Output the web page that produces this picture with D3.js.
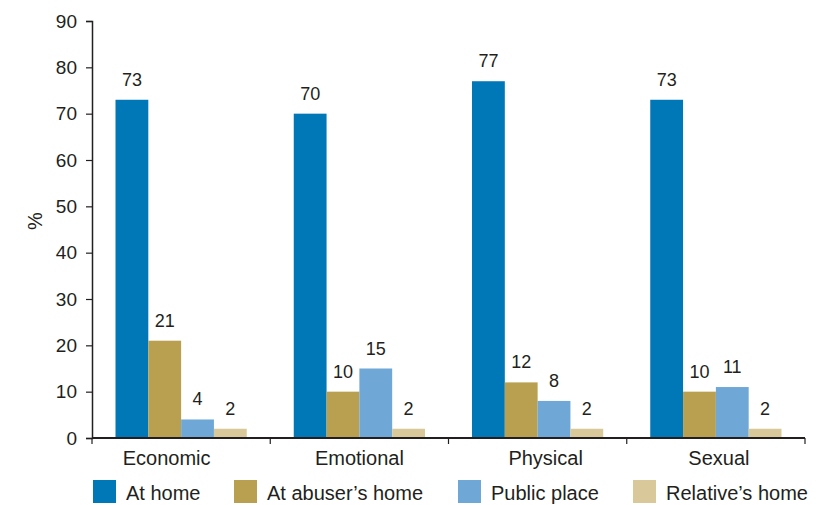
<!DOCTYPE html>
<html>
<head>
<meta charset="utf-8">
<script src="https://cdn.jsdelivr.net/npm/d3@7"></script>
<style>
  html, body { margin: 0; padding: 0; background: #fff; }
  svg { display: block; font-family: "Liberation Sans", Arial, Helvetica, sans-serif; }
</style>
</head>
<body>
<svg id="chart" width="818" height="505"></svg>
<script>
// Where the abuse took place, by type of abuse (%)
const categories = ["Economic", "Emotional", "Physical", "Sexual"];
const seriesNames = ["At home", "At abuser\u2019s home", "Public place", "Relative\u2019s home"];
const atHome = [73, 70, 77, 73];
const atAbusersHome = [21, 10, 12, 10];
const publicPlace = [4, 15, 8, 11];
const relativesHome = [2, 2, 2, 2];
const yTicks = [0, 10, 20, 30, 40, 50, 60, 70, 80, 90];
const colors = ["#0077b6", "#b8a050", "#6fa8d6", "#d9c99a"];

const seriesValues = [atHome, atAbusersHome, publicPlace, relativesHome];
const table = categories.map((c, i) => ({
  category: c,
  values: seriesNames.map((s, j) => ({ series: s, idx: j, value: seriesValues[j][i] }))
}));

const svg = d3.select("#chart");
const plotLeft = 92, plotRight = 805, plotTop = 21, plotBottom = 438;
const ink = "#231f20";

const x = d3.scaleBand().domain(categories).range([plotLeft, plotRight]).paddingInner(0).paddingOuter(0);
const groupPad = 23.5;
const xs = d3.scaleBand().domain(seriesNames).range([groupPad, x.bandwidth() - groupPad]).padding(0);
const y = d3.scaleLinear().domain([0, 90]).range([plotBottom, plotTop]);

// bars
const groups = svg.append("g").selectAll("g")
  .data(table).join("g")
  .attr("transform", d => `translate(${x(d.category)},0)`);

groups.selectAll("rect")
  .data(d => d.values).join("rect")
  .attr("x", d => xs(d.series))
  .attr("y", d => y(d.value))
  .attr("width", xs.bandwidth())
  .attr("height", d => y(0) - y(d.value))
  .attr("fill", d => colors[d.idx]);

// value labels
groups.selectAll("text")
  .data(d => d.values).join("text")
  .attr("x", d => xs(d.series) + xs.bandwidth() / 2)
  .attr("y", d => y(d.value) - 14)
  .attr("text-anchor", "middle")
  .attr("font-size", 18)
  .attr("fill", ink)
  .text(d => d.value);

// y axis
const yAxis = svg.append("g")
  .attr("transform", `translate(${plotLeft},0)`)
  .call(d3.axisLeft(y).tickValues(yTicks).tickSize(6).tickPadding(9));
yAxis.select(".domain").attr("stroke", ink).attr("stroke-width", 1.5);
yAxis.selectAll(".tick line").attr("stroke", ink).attr("stroke-width", 1.2);
yAxis.selectAll(".tick text").attr("font-size", 19).attr("fill", ink)
  .attr("font-family", "Liberation Sans, Arial, sans-serif");

// x axis: baseline with ticks at the category boundaries
const xAxisG = svg.append("g").attr("transform", `translate(0,${plotBottom})`);
xAxisG.append("line")
  .attr("x1", plotLeft).attr("x2", plotRight).attr("y1", 0).attr("y2", 0)
  .attr("stroke", ink).attr("stroke-width", 2);
const boundaries = categories.map(c => x(c)).concat([x(categories[categories.length - 1]) + x.bandwidth()]);
xAxisG.selectAll("line.bt")
  .data(boundaries).join("line")
  .attr("class", "bt")
  .attr("x1", d => d).attr("x2", d => d)
  .attr("y1", 0).attr("y2", 6)
  .attr("stroke", ink).attr("stroke-width", 1.2);
// category labels sit slightly off their band centres
const labelNudge = [-14.5, 0, 8, 3];
xAxisG.selectAll("text")
  .data(categories).join("text")
  .attr("x", (d, i) => x(d) + x.bandwidth() / 2 + labelNudge[i])
  .attr("y", 27)
  .attr("text-anchor", "middle")
  .attr("font-size", 20)
  .attr("fill", ink)
  .text(d => d);

// y axis title
svg.append("text")
  .attr("transform", "translate(42,221) rotate(-90)")
  .attr("text-anchor", "middle")
  .attr("font-size", 20)
  .attr("fill", ink)
  .text("%");

// legend
const legendX = [93, 234, 458, 633];
const legend = svg.append("g").selectAll("g")
  .data(seriesNames).join("g")
  .attr("transform", (d, i) => `translate(${legendX[i]},480)`);
legend.append("rect")
  .attr("width", 23).attr("height", 23)
  .attr("fill", (d, i) => colors[i]);
legend.append("text")
  .attr("x", 33).attr("y", 20)
  .attr("font-size", 20)
  .attr("fill", ink)
  .text(d => d);
</script>
</body>
</html>
